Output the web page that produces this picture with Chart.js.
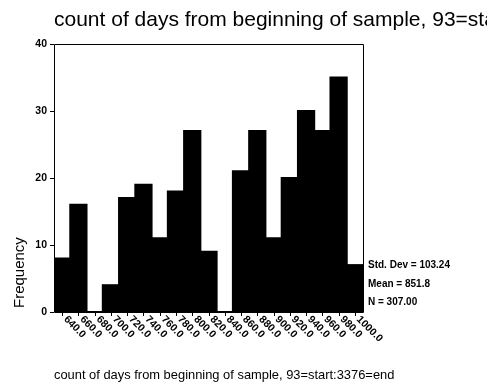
<!DOCTYPE html>
<html lang="en">
<head>
    <meta charset="UTF-8">
    <title>Days from beginning of sample</title>
    <script src="https://cdn.jsdelivr.net/npm/chart.js"></script>
    <style>
        body { margin: 0; background: #fff; }
        #wrap { width: 487px; height: 387px; }
    </style>
</head>
<body>
<div id="wrap">
  <canvas id="DaysChart" width="487" height="387"></canvas>
</div>
<script>
// bin midpoints (days) and their counts
const binLabels = ['640.0', '660.0', '680.0', '700.0', '720.0', '740.0', '760.0', '780.0', '800.0', '820.0',
                   '840.0', '860.0', '880.0', '900.0', '920.0', '940.0', '960.0', '980.0', '1000.0'];
const frequencies = [8, 16, 0, 4, 17, 19, 11, 18, 27, 9, 0, 21, 27, 11, 20, 30, 27, 35, 7];
const yTicks = [0, 10, 20, 30, 40];
const statLines = ['Std. Dev = 103.24', 'Mean = 851.8', 'N = 307.00'];

const titleText = 'count of days from beginning of sample, 93=start:3376=end';
const FONT = "'Liberation Sans', Arial, Helvetica, sans-serif";

// frame, ticks and all the text are drawn by hand (SPSS style)
const spssAxes = {
    id: 'spssAxes',
    afterDatasetsDraw(chart) {
        const ctx = chart.ctx;
        const a = chart.chartArea;
        const xs = chart.scales.x;
        const ys = chart.scales.y;
        ctx.save();
        ctx.strokeStyle = '#000';
        ctx.lineWidth = 1;
        ctx.beginPath();
        ctx.rect(a.left + 0.5, a.top + 0.5, a.right - a.left, a.bottom - a.top);
        // y ticks
        yTicks.forEach(v => {
            const y = Math.round(ys.getPixelForValue(v)) + 0.5;
            ctx.moveTo(a.left - 4, y);
            ctx.lineTo(a.left, y);
        });
        // x ticks at bin centres
        binLabels.forEach((l, i) => {
            const x = Math.round(xs.getPixelForValue(i)) + 0.5;
            ctx.moveTo(x, a.bottom);
            ctx.lineTo(x, a.bottom + 4);
        });
        ctx.stroke();

        ctx.fillStyle = '#000';
        ctx.font = 'bold 10.5px ' + FONT;
        ctx.textAlign = 'right';
        ctx.textBaseline = 'middle';
        yTicks.forEach(v => {
            ctx.fillText(String(v), a.left - 7, ys.getPixelForValue(v));
        });

        ctx.font = 'bold 10.5px ' + FONT;
        ctx.textAlign = 'left';
        ctx.textBaseline = 'top';
        binLabels.forEach((l, i) => {
            const x = xs.getPixelForValue(i);
            ctx.save();
            ctx.translate(x + 7, a.bottom + 2);
            ctx.rotate(Math.PI / 4);
            ctx.fillText(l, 0, 0);
            ctx.restore();
        });

        // summary statistics to the right of the plot
        ctx.font = 'bold 10px ' + FONT;
        ctx.textBaseline = 'alphabetic';
        statLines.forEach((s, i) => {
            ctx.fillText(s, a.right + 5, 268 + i * 18.5);
        });

        // titles
        ctx.font = '21px ' + FONT;
        ctx.fillText(titleText, 54, 25.5);

        ctx.font = '12.9px ' + FONT;
        ctx.fillText(titleText, 54, 379);

        ctx.save();
        ctx.font = '15px ' + FONT;
        ctx.translate(23.5, 308);
        ctx.rotate(-Math.PI / 2);
        ctx.fillText('Frequency', 0, 0);
        ctx.restore();

        ctx.restore();
    }
};

const ctx = document.getElementById('DaysChart').getContext('2d');
new Chart(ctx, {
    type: 'bar',
    data: {
        labels: binLabels,
        datasets: [{
            label: 'Frequency',
            data: frequencies,
            backgroundColor: '#000',
            borderWidth: 0,
            inflateAmount: 1,
            barPercentage: 1,
            categoryPercentage: 1
        }]
    },
    options: {
        responsive: false,
        animation: false,
        layout: {
            padding: { left: 54, top: 44, right: 124, bottom: 75 }
        },
        plugins: {
            legend: { display: false },
            title: { display: false },
            tooltip: { enabled: false }
        },
        scales: {
            x: { display: false, offset: true },
            y: { display: false, min: 0, max: 40 }
        }
    },
    plugins: [spssAxes]
});
</script>
</body>
</html>
